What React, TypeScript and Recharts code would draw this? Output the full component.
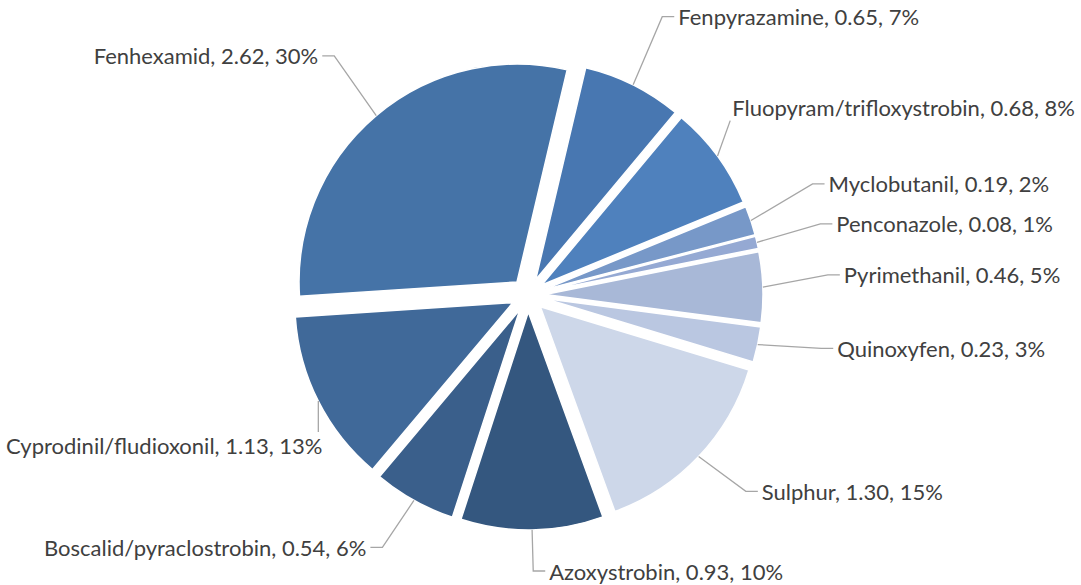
import React from 'react';
import { PieChart, Pie, Cell, Sector } from 'recharts';

// fungicide use, in order of the series (alphabetical, Excel starts with the first one)
const names = [
  'Azoxystrobin',
  'Boscalid/pyraclostrobin',
  'Cyprodinil/fludioxonil',
  'Fenhexamid',
  'Fenpyrazamine',
  'Fluopyram/trifloxystrobin',
  'Myclobutanil',
  'Penconazole',
  'Pyrimethanil',
  'Quinoxyfen',
  'Sulphur',
];
const values = [0.93, 0.54, 1.13, 2.62, 0.65, 0.68, 0.19, 0.08, 0.46, 0.23, 1.3];
// shares as printed on the chart
const shares = ['10%', '6%', '13%', '30%', '7%', '8%', '2%', '1%', '5%', '3%', '15%'];

const colors = [
  '#34577F', '#3A5F8B', '#406999', '#4573A7', '#4877B1', '#4F81BD',
  '#7798C8', '#95A9D3', '#A8B8D7', '#BAC7E1', '#CDD7E9',
];

const W = 1081;
const H = 585;
const CX = 528;
const CY = 295;
const R = 218;
const EXPLODE = 17;
const START = -70;
const END = -430;
const LABEL_R = 300;
const LABEL_RING_DY = -10; // label ring sits a little higher than the pie
const MIN_GAP = 40;
const FONT_SIZE = 22;
const FONT = 'Lato, "Noto Sans", sans-serif';
const RAD = Math.PI / 180;

const chartData = names.map((name, i) => ({ name, value: values[i], share: shares[i] }));

let ctx: CanvasRenderingContext2D | null = null;
const measure = (s: string) => {
  if (!ctx) ctx = document.createElement('canvas').getContext('2d');
  if (!ctx) return s.length * FONT_SIZE * 0.5;
  ctx.font = `${FONT_SIZE}px Lato`;
  return ctx.measureText(s).width;
};

type LabelBox = {
  text: string;
  width: number;
  right: boolean;
  lower: boolean;
  ex: number;
  ey: number;
};

// place labels on a ring round the pie, then push apart the ones that collide
const layoutLabels = (): LabelBox[] => {
  const total = values.reduce((a, b) => a + b, 0);
  let acc = 0;
  const items = values.map((v, i) => {
    const mid = START + ((END - START) * (acc + v / 2)) / total;
    acc += v;
    const cos = Math.cos(mid * RAD);
    const sin = Math.sin(mid * RAD);
    const text = `${names[i]}, ${v.toFixed(2)}, ${shares[i]}`;
    return {
      text,
      width: measure(text),
      right: cos >= 0,
      lower: sin < 0,
      ex: CX + LABEL_R * cos,
      ey: CY + LABEL_RING_DY - LABEL_R * sin,
    };
  });

  [true, false].forEach((side) => {
    const group = items.filter((d) => d.right === side).sort((a, b) => a.ey - b.ey);
    for (let iter = 0; iter < 60; iter++) {
      let moved = false;
      for (let k = 1; k < group.length; k++) {
        const gap = group[k].ey - group[k - 1].ey;
        if (gap < MIN_GAP) {
          const s = (MIN_GAP - gap) / 2;
          group[k - 1].ey -= s;
          group[k].ey += s;
          moved = true;
        }
      }
      group.forEach((d) => {
        d.ey = Math.max(16, Math.min(H - 14, d.ey));
      });
      if (!moved) break;
    }
  });
  return items;
};

const clamp = (v: number, lo: number, hi: number) => Math.max(lo, Math.min(hi, v));

const App = () => {
  const labels = React.useMemo(layoutLabels, []);

  const renderSlice = (props: any) => {
    const { cx, cy, midAngle } = props;
    const dx = EXPLODE * Math.cos(-midAngle * RAD);
    const dy = EXPLODE * Math.sin(-midAngle * RAD);
    return <Sector {...props} cx={cx + dx} cy={cy + dy} />;
  };

  const renderLabel = (props: any) => {
    const { cx, cy, midAngle, outerRadius, index } = props;
    const d = labels[index];
    if (!d) return null;
    const ax = cx + (outerRadius + EXPLODE) * Math.cos(-midAngle * RAD);
    const ay = cy + (outerRadius + EXPLODE) * Math.sin(-midAngle * RAD);

    let tx = d.right ? d.ex + 16 : d.ex - 16;
    let ty = d.ey;
    let clamped = false;
    if (d.right && tx + d.width > W - 6) {
      tx = W - 6 - d.width;
      clamped = true;
    }
    if (!d.right && tx - d.width < 6) {
      tx = 6 + d.width;
      clamped = true;
    }

    let points: string;
    if (clamped) {
      // box pushed inwards: keep it clear of the slice and point the leader at its nearest edge
      if (d.lower) ty = Math.max(ty, ay + 44);
      else ty = Math.min(ty, ay - 44);
      const x0 = d.right ? tx : tx - d.width;
      const x1 = d.right ? tx + d.width : tx;
      const px = clamp(ax, x0 - 2, x1 + 2);
      const py = clamp(ay, ty - 13, ty + 13);
      points = `${ax},${ay} ${px},${py}`;
    } else {
      const hx = d.right ? d.ex + 12 : d.ex - 12;
      points = `${ax},${ay} ${d.ex},${ty} ${hx},${ty}`;
    }

    return (
      <g key={`lbl-${index}`}>
        <polyline points={points} fill="none" stroke="#A6A6A6" strokeWidth={1.3} />
        <text
          x={tx}
          y={ty}
          textAnchor={d.right ? 'start' : 'end'}
          dominantBaseline="central"
          fill="#404040"
          fontSize={FONT_SIZE}
          fontFamily={FONT}
        >
          {d.text}
        </text>
      </g>
    );
  };

  return (
    <div style={{ width: W, height: H, background: '#fff' }}>
      <style>{'body{margin:0}'}</style>
      <PieChart width={W} height={H} margin={{ top: 0, right: 0, bottom: 0, left: 0 }}>
        <Pie
          data={chartData}
          dataKey="value"
          nameKey="name"
          cx={CX}
          cy={CY}
          outerRadius={R}
          startAngle={START}
          endAngle={END}
          stroke="#fff"
          strokeWidth={1.5}
          shape={renderSlice}
          inactiveShape={renderSlice}
          activeShape={renderSlice}
          label={renderLabel}
          labelLine={false}
          isAnimationActive={false}
        >
          {chartData.map((d, i) => (
            <Cell key={d.name} fill={colors[i]} />
          ))}
        </Pie>
      </PieChart>
    </div>
  );
};

export default App;
